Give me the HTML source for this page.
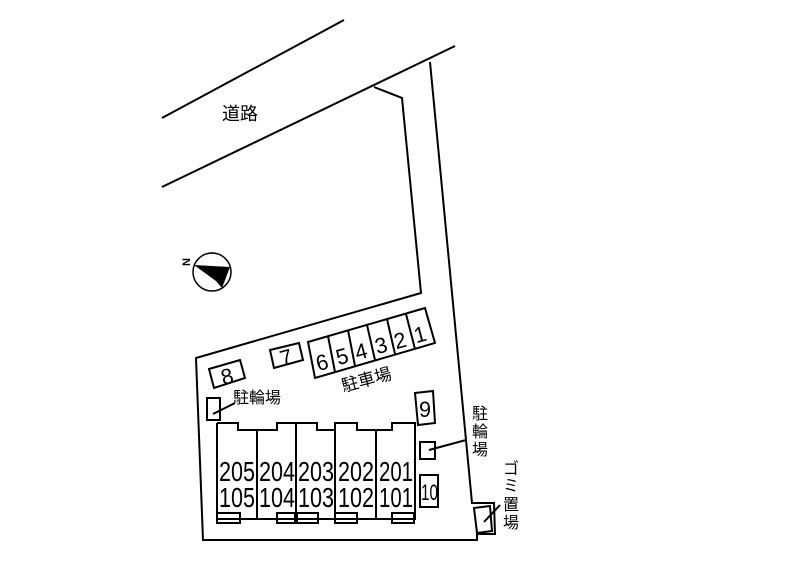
<!DOCTYPE html>
<html><head><meta charset="utf-8"><style>
html,body{margin:0;padding:0;background:#fff;}
svg{display:block;}
text{font-family:"Liberation Sans","Noto Sans CJK JP",sans-serif;fill:#000;}
</style></head><body>
<svg width="800" height="566" viewBox="0 0 800 566" xmlns="http://www.w3.org/2000/svg">
<g fill="none" stroke="#000" stroke-width="2">
<line x1="162" y1="118" x2="344" y2="20"/>
<line x1="162" y1="187" x2="455" y2="46"/>
<polyline points="374,87 402,98 421,293 196,358 203,540 477,540 477,534 495,534 494,503 472,503 430,62"/>
<polygon points="474,508 490,506 492,531 477,533"/>
<polygon points="308,342 425,308 435,343 315,378"/>
<line x1="328" y1="336" x2="335" y2="372"/>
<line x1="348" y1="330" x2="355" y2="366"/>
<line x1="367" y1="325" x2="375" y2="360"/>
<line x1="387" y1="319" x2="395" y2="354"/>
<line x1="406" y1="314" x2="415" y2="349"/>
<polygon points="270,350 299,343 303,360 274,368"/>
<polygon points="209,369 240,360 245,378 214,388"/>
<rect x="207" y="398" width="13" height="22"/>
<line x1="213" y1="414" x2="235" y2="403"/>
<polygon points="415,393 433,391 435,423 418,425"/>
<rect x="420" y="442" width="15" height="17"/>
<line x1="429" y1="450" x2="466" y2="440"/>
<rect x="420" y="475" width="18" height="32"/>
<line x1="484" y1="522" x2="500" y2="505"/>
<polyline points="217,423 238,423 238,430 277,430 277,423 317,423 317,430 335,430 335,423 357,423 357,430 392,430 392,423 415,423 415,519 217,519 217,423"/>
<line x1="257" y1="430" x2="257" y2="519"/>
<line x1="296" y1="423" x2="296" y2="519"/>
<line x1="335" y1="430" x2="335" y2="519"/>
<line x1="376" y1="430" x2="376" y2="519"/>
<rect x="217" y="513" width="23" height="10"/>
<rect x="277" y="513" width="18" height="10"/>
<rect x="297" y="513" width="21" height="10"/>
<rect x="335" y="513" width="22" height="10"/>
<rect x="392" y="513" width="22" height="10"/>
<circle cx="212" cy="272" r="19" stroke-width="1.5"/>
</g>
<polygon points="194,265 230,267 222,288 216,281" fill="#000"/>
<text x="183" y="267" font-size="11" font-weight="bold" transform="rotate(-90 186 263)">N</text>
<text x="222" y="120" font-size="18">道路</text>
<g font-size="22">
<text x="316" y="370" transform="rotate(-15 322 362)" textLength="12" lengthAdjust="spacingAndGlyphs">6</text>
<text x="336" y="364" transform="rotate(-15 342 356)" textLength="12" lengthAdjust="spacingAndGlyphs">5</text>
<text x="355" y="359" transform="rotate(-15 361 351)" textLength="12" lengthAdjust="spacingAndGlyphs">4</text>
<text x="375" y="353" transform="rotate(-15 381 345)" textLength="12" lengthAdjust="spacingAndGlyphs">3</text>
<text x="394" y="348" transform="rotate(-15 400 340)" textLength="12" lengthAdjust="spacingAndGlyphs">2</text>
<text x="414" y="342" transform="rotate(-15 420 334)" textLength="12" lengthAdjust="spacingAndGlyphs">1</text>
<text x="280" y="365" transform="rotate(-15 286 357)" textLength="12" lengthAdjust="spacingAndGlyphs">7</text>
<text x="221" y="384" transform="rotate(-15 227 376)" textLength="12" lengthAdjust="spacingAndGlyphs">8</text>
<text x="419" y="417" textLength="12" lengthAdjust="spacingAndGlyphs">9</text>
<text x="421" y="500" textLength="17" lengthAdjust="spacingAndGlyphs">10</text>
</g>
<text x="341" y="386" font-size="17" transform="rotate(-15 365 380)">駐車場</text>
<text x="233" y="403" font-size="16">駐輪場</text>
<g font-size="16">
<text x="472" y="419">駐</text><text x="472" y="437">輪</text><text x="472" y="455">場</text>
<text x="503" y="474">ゴ</text><text x="503" y="491">ミ</text>
<text x="503" y="510">置</text><text x="503" y="528">場</text>
</g>
<g font-size="28" text-anchor="middle" lengthAdjust="spacingAndGlyphs">
<text x="237" y="481" textLength="36" lengthAdjust="spacingAndGlyphs">205</text>
<text x="277" y="481" textLength="36" lengthAdjust="spacingAndGlyphs">204</text>
<text x="316" y="481" textLength="36" lengthAdjust="spacingAndGlyphs">203</text>
<text x="356" y="481" textLength="36" lengthAdjust="spacingAndGlyphs">202</text>
<text x="396" y="481" textLength="34" lengthAdjust="spacingAndGlyphs">201</text>
<text x="237" y="507" textLength="36" lengthAdjust="spacingAndGlyphs">105</text>
<text x="277" y="507" textLength="36" lengthAdjust="spacingAndGlyphs">104</text>
<text x="316" y="507" textLength="36" lengthAdjust="spacingAndGlyphs">103</text>
<text x="356" y="507" textLength="36" lengthAdjust="spacingAndGlyphs">102</text>
<text x="396" y="507" textLength="34" lengthAdjust="spacingAndGlyphs">101</text>
</g>
</svg>
</body></html>
